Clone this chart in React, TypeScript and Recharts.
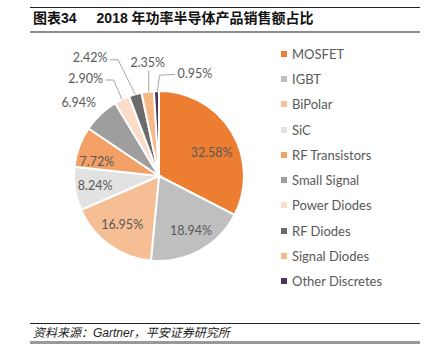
import { PieChart, Pie, Cell, Legend } from 'recharts';

const categories = [
  'MOSFET',
  'IGBT',
  'BiPolar',
  'SiC',
  'RF Transistors',
  'Small Signal',
  'Power Diodes',
  'RF Diodes',
  'Signal Diodes',
  'Other Discretes',
];
const shares = [32.58, 18.94, 16.95, 8.24, 7.72, 6.94, 2.9, 2.42, 2.35, 0.95];
const colors = [
  '#ED7D31',
  '#BFBFBF',
  '#F6BE94',
  '#E2E2E2',
  '#F2A065',
  '#9E9E9E',
  '#FADCC8',
  '#6B6B6B',
  '#F7B888',
  '#47375F',
];

// label offset from the slice middle: extra clockwise degrees, radius factor, leader side
const labelPlacement: { da: number; rf: number; side?: 'left' | 'right' | 'bottom' }[] = [
  { da: 7, rf: 0.68 },
  { da: -2, rf: 0.74 },
  { da: 1, rf: 0.72 },
  { da: 0, rf: 0.76 },
  { da: -7, rf: 0.75 },
  { da: -4, rf: 1.28 },
  { da: -11, rf: 1.44, side: 'right' },
  { da: -14, rf: 1.61, side: 'right' },
  { da: 2, rf: 1.34, side: 'bottom' },
  { da: 21, rf: 1.28, side: 'left' },
];

const data = categories.map((name, i) => ({ name, value: shares[i] }));

const RAD = Math.PI / 180;

function renderLabel(props: any) {
  const { cx, cy, midAngle, outerRadius, index } = props;
  const p = labelPlacement[index];
  const base = 90 - midAngle;
  const a = (base + p.da) * RAD;
  const r = outerRadius * p.rf;
  const x = cx + r * Math.sin(a);
  const y = cy - r * Math.cos(a);
  let line = null;
  if (p.side) {
    const ex = cx + outerRadius * Math.sin(base * RAD);
    const ey = cy - outerRadius * Math.cos(base * RAD);
    let pts = '';
    if (p.side === 'right') {
      const ax = x + 20;
      pts = `${ax},${y + 2} ${ax + 8},${y + 2} ${ex},${ey}`;
    } else if (p.side === 'left') {
      const ax = x - 20;
      pts = `${ax},${y + 1} ${ex + 3},${y + 2} ${ex + 1},${ey}`;
    } else {
      pts = `${x + 1},${y + 8} ${ex + 1},${ey}`;
    }
    line = <polyline points={pts} fill="none" stroke="#A6A6A6" strokeWidth={1} />;
  }
  return (
    <g key={`lbl-${index}`}>
      {line}
      <text
        x={x}
        y={y}
        textAnchor="middle"
        dominantBaseline="central"
        fill="#595959"
        fontSize={12.5}
        fontFamily="Lato, sans-serif"
      >
        {shares[index].toFixed(2)}%
      </text>
    </g>
  );
}

// legend keeps the series order (recharts would sort it by name)
function renderLegend() {
  return (
    <div style={{ fontFamily: 'Lato, sans-serif', fontSize: 13, color: '#595959' }}>
      {categories.map((name, i) => (
        <div key={name} style={{ height: 25.3, display: 'flex', alignItems: 'center' }}>
          <span
            style={{
              display: 'inline-block',
              width: 6,
              height: 6,
              background: colors[i],
              marginRight: 5,
            }}
          />
          {name}
        </div>
      ))}
    </div>
  );
}

export default function App() {
  return (
    <div
      style={{
        position: 'absolute',
        left: 0,
        top: 0,
        width: 426,
        height: 354,
        background: '#fff',
      }}
    >
      <div style={{ position: 'absolute', left: 30, top: 7, width: 390, borderTop: '1px solid #222' }} />
      <div
        style={{
          position: 'absolute',
          left: 33,
          top: 8,
          fontFamily: '"Liberation Sans", "Noto Sans CJK SC", sans-serif',
          fontWeight: 'bold',
          fontSize: 14,
          lineHeight: '20px',
          color: '#111',
          whiteSpace: 'nowrap',
        }}
      >
        <span>图表34</span>
        <span style={{ marginLeft: 20 }}>2018 年功率半导体产品销售额占比</span>
      </div>
      <div style={{ position: 'absolute', left: 30, top: 31, width: 390, borderTop: '2px solid #8C8C8C' }} />

      <div style={{ position: 'absolute', left: 0, top: 0 }}>
        <PieChart width={426} height={354} margin={{ top: 0, right: 0, bottom: 0, left: 0 }}>
          <Pie
            data={data}
            dataKey="value"
            nameKey="name"
            cx={159}
            cy={176}
            outerRadius={85}
            startAngle={90}
            endAngle={-270}
            stroke="#fff"
            strokeWidth={2}
            label={renderLabel}
            labelLine={false}
            isAnimationActive={false}
          >
            {data.map((d, i) => (
              <Cell key={d.name} fill={colors[i]} />
            ))}
          </Pie>
          <Legend
            layout="vertical"
            content={renderLegend}
            wrapperStyle={{ position: 'absolute', left: 281, top: 41, width: 140 }}
          />
        </PieChart>
      </div>

      <div style={{ position: 'absolute', left: 30, top: 323, width: 390, borderTop: '1px solid #222' }} />
      <div
        style={{
          position: 'absolute',
          left: 33,
          top: 325,
          fontFamily: '"Liberation Sans", "Noto Sans CJK SC", sans-serif',
          fontStyle: 'italic',
          fontSize: 12,
          lineHeight: '16px',
          color: '#222',
          whiteSpace: 'nowrap',
        }}
      >
        资料来源：Gartner，平安证券研究所
      </div>
      <div style={{ position: 'absolute', left: 30, top: 341, width: 390, borderTop: '3px solid #999' }} />
    </div>
  );
}
